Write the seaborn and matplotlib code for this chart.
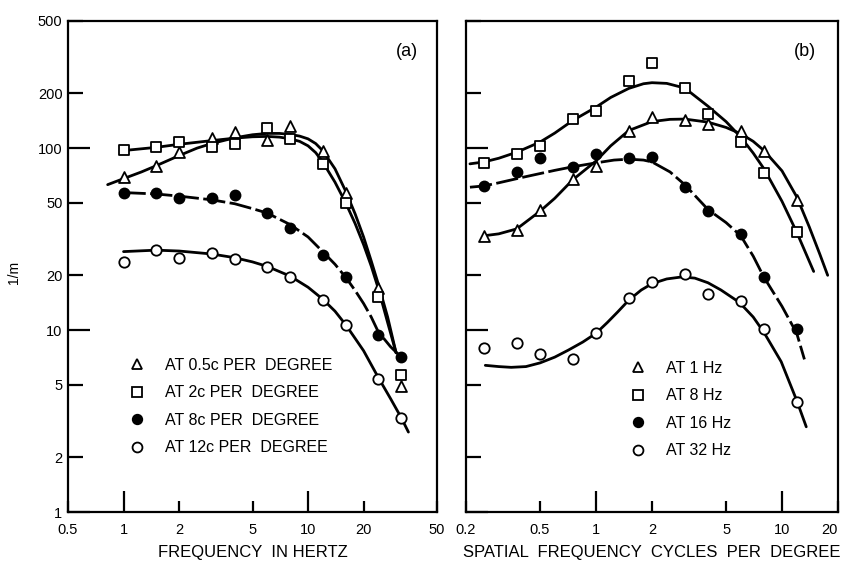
import seaborn as sns
import matplotlib.pyplot as plt
from matplotlib.lines import Line2D
from matplotlib.ticker import FixedLocator, FixedFormatter, NullFormatter

# ---- panel (a): sensitivity vs temporal frequency ----
temporal_hz = [1, 1.5, 2, 3, 4, 6, 8, 12, 16, 24, 32]
a_05c = [69, 80, 95, 114, 122, 111, 132, 97, 57, 17, 4.9]
a_2c = [98, 101, 108, 101, 105, 129, 112, 82, 50, 15.2, 5.65]
a_8c = [57, 57, 53.5, 53, 55, 44, 36.6, 26, 19.5, 9.4, 7.1]
a_12c = [23.8, 27.5, 25, 26.4, 24.5, 22.3, 19.5, 14.7, 10.6, 5.4, 3.27]

# hand-drawn fitted curves
a_05c_cx = [0.82, 1, 1.25, 1.5, 2, 2.5, 3, 4, 5, 6, 7, 8, 9, 10, 11, 12, 14, 16, 18, 20, 22, 24, 27, 30]
a_05c_cy = [63, 68, 74, 80, 91, 100, 106, 114, 118.5, 120.5, 120.5, 119, 116.5, 112.5, 106, 97, 77, 58, 43.5, 32.5, 24, 18, 11.8, 7.5]
a_2c_cx = [1, 1.5, 2, 3, 4, 5, 6, 7, 8, 9, 10, 11, 12, 14, 16, 18, 20, 22, 24, 27, 30]
a_2c_cy = [97, 101, 105, 110, 113.5, 115.5, 116, 115, 112.5, 109, 103, 94.5, 84, 65, 50, 38.5, 29.5, 22.5, 17, 11, 7.5]
a_8c_cx = [1, 1.5, 2, 3, 4, 5, 6, 8, 10, 12, 14, 16, 18, 20, 22, 24, 28, 32]
a_8c_cy = [57, 56, 54.5, 52, 49.5, 46.5, 44, 38, 32.5, 27, 23, 19.5, 16.5, 14, 11.8, 9.8, 8.1, 7.1]
a_12c_cx = [1, 1.5, 2, 3, 4, 5, 6, 8, 10, 12, 14, 16, 18, 20, 24, 28, 32, 35]
a_12c_cy = [27, 27.5, 27.2, 26.2, 25, 23.7, 22.4, 19.8, 17.2, 14.8, 12.7, 10.7, 9.0, 7.7, 5.5, 4.2, 3.3, 2.75]

# ---- panel (b): sensitivity vs spatial frequency ----
spatial_cpd = [0.25, 0.375, 0.5, 0.75, 1, 1.5, 2, 3, 4, 6, 8, 12]
b_1hz = [33, 35.5, 46, 68, 80, 125, 148, 142, 136, 124, 97, 52]
b_8hz = [83, 93, 103, 144, 160, 235, 293, 215, 154, 108, 73, 34.5]
b_16hz = [62, 73.5, 88, 79, 93, 88, 89, 61, 45, 33.7, 19.5, 10.1]
b_32hz = [8.0, 8.5, 7.4, 6.9, 9.6, 15.1, 18.3, 20.3, 15.7, 14.5, 10.2, 4.0]

b_1hz_cx = [0.25, 0.3, 0.375, 0.5, 0.6, 0.75, 1, 1.2, 1.5, 2, 2.5, 3, 4, 5, 6, 7, 8, 10, 12, 14, 16, 17.6]
b_1hz_cy = [33, 33.8, 36, 45, 53, 67, 85, 103, 125, 140, 144, 144.5, 139, 130, 120, 109, 97, 75, 54, 37, 26, 20]
b_8hz_cx = [0.21, 0.25, 0.3, 0.375, 0.5, 0.6, 0.75, 1, 1.2, 1.5, 1.8, 2, 2.4, 3, 4, 5, 6, 7, 8, 10, 12, 14.8]
b_8hz_cy = [82, 84, 88, 95, 108, 121, 142, 168, 190, 213, 226, 229, 227, 214, 170, 140, 115, 94, 77, 51, 34.5, 21]
b_16hz_cx = [0.21, 0.25, 0.3, 0.4, 0.5, 0.6, 0.75, 1, 1.25, 1.5, 1.8, 2, 2.5, 3, 4, 5, 6, 7, 8, 10, 12, 13.2]
b_16hz_cy = [61, 62, 64.5, 69, 72.5, 75.5, 79, 83, 86, 87, 86, 84, 74, 63, 46, 39, 33, 25.5, 19.5, 13.5, 9.6, 6.9]
b_32hz_cx = [0.254, 0.3, 0.35, 0.42, 0.5, 0.6, 0.71, 0.85, 1, 1.15, 1.31, 1.5, 1.75, 2, 2.4, 2.9,
             3.4, 4, 4.7, 5.9, 7, 8, 9.9, 12, 13.5]
b_32hz_cy = [6.4, 6.3, 6.24, 6.3, 6.6, 7.1, 7.76, 8.6, 9.6, 11, 12.6, 14.6, 16.6, 18, 19.1, 19.6,
             19.3, 18.2, 16.6, 14.2, 11.8, 9.7, 6.7, 4.1, 2.94]

legend_a = ["AT 0.5c PER  DEGREE", "AT 2c PER  DEGREE", "AT 8c PER  DEGREE", "AT 12c PER  DEGREE"]
legend_b = ["AT 1 Hz", "AT 8 Hz", "AT 16 Hz", "AT 32 Hz"]

sns.set_style("white")
plt.rcParams['font.family'] = ['Liberation Sans', 'DejaVu Sans']
plt.rcParams['text.color'] = 'black'
plt.rcParams['axes.labelcolor'] = 'black'

fig = plt.figure(figsize=(8.41, 5.63), dpi=100)
ax_a = fig.add_axes([68 / 841, 1 - 512 / 563, 369 / 841, 491 / 563])
ax_b = fig.add_axes([466 / 841, 1 - 512 / 563, 372 / 841, 491 / 563])

styles = [('^', 'white', 62), ('s', 'white', 52), ('o', 'black', 52), ('o', 'white', 56)]


def draw(ax, xs, ys, cx, cy, style, dashed=False):
    sns.lineplot(x=cx, y=cy, ax=ax, color='black', lw=2.0, sort=False,
                 estimator=None, zorder=2)
    if dashed:
        ax.lines[-1].set_dashes([8, 1.6])
    m, fc, s = style
    sns.scatterplot(x=xs, y=ys, ax=ax, marker=m, s=s, color=fc,
                    edgecolor='black', linewidth=1.3, zorder=3)


draw(ax_a, temporal_hz, a_05c, a_05c_cx, a_05c_cy, styles[0])
draw(ax_a, temporal_hz, a_2c, a_2c_cx, a_2c_cy, styles[1])
draw(ax_a, temporal_hz, a_8c, a_8c_cx, a_8c_cy, styles[2], dashed=True)
draw(ax_a, temporal_hz, a_12c, a_12c_cx, a_12c_cy, styles[3])

draw(ax_b, spatial_cpd, b_1hz, b_1hz_cx, b_1hz_cy, styles[0])
draw(ax_b, spatial_cpd, b_8hz, b_8hz_cx, b_8hz_cy, styles[1])
draw(ax_b, spatial_cpd, b_16hz, b_16hz_cx, b_16hz_cy, styles[2], dashed=True)
draw(ax_b, spatial_cpd, b_32hz, b_32hz_cx, b_32hz_cy, styles[3])

for ax, xlim in ((ax_a, (0.5, 50)), (ax_b, (0.2, 20))):
    ax.set_xscale('log')
    ax.set_yscale('log')
    ax.set_xlim(*xlim)
    ax.set_ylim(1, 500)
    for sp in ax.spines.values():
        sp.set_linewidth(1.6)
        sp.set_color('black')
    ax.yaxis.set_major_locator(FixedLocator([1, 10, 100]))
    ax.yaxis.set_minor_locator(FixedLocator([2, 5, 20, 50, 200, 500]))
    ax.tick_params(axis='both', which='both', direction='in', width=1.6,
                   color='black', labelsize=10.5, labelcolor='black',
                   bottom=True, left=True, top=False, right=False)
    ax.tick_params(axis='y', which='major', length=16, pad=4)
    ax.tick_params(axis='y', which='minor', length=11, pad=4)
    ax.tick_params(axis='x', which='major', length=15, pad=8)
    ax.tick_params(axis='x', which='minor', length=8, pad=8)
    ax.set_ylabel('')

ax_a.yaxis.set_major_formatter(FixedFormatter(['1', '10', '100']))
ax_a.yaxis.set_minor_formatter(FixedFormatter(['2', '5', '20', '50', '200', '500']))
ax_b.yaxis.set_major_formatter(NullFormatter())
ax_b.yaxis.set_minor_formatter(NullFormatter())

ax_a.xaxis.set_major_locator(FixedLocator([1, 10]))
ax_a.xaxis.set_minor_locator(FixedLocator([0.5, 2, 5, 20, 50]))
ax_a.xaxis.set_major_formatter(FixedFormatter(['1', '10']))
ax_a.xaxis.set_minor_formatter(FixedFormatter(['0.5', '2', '5', '20', '50']))

ax_b.xaxis.set_major_locator(FixedLocator([1, 10]))
ax_b.xaxis.set_minor_locator(FixedLocator([0.2, 0.5, 2, 5, 20]))
ax_b.xaxis.set_major_formatter(FixedFormatter(['1', '10']))
ax_b.xaxis.set_minor_formatter(FixedFormatter(['0.2', '0.5', '2', '5', '20']))

ax_a.set_xlabel('FREQUENCY  IN HERTZ', fontsize=12, labelpad=6, color='black')
ax_b.set_xlabel('SPATIAL  FREQUENCY  CYCLES  PER  DEGREE', fontsize=12, labelpad=6, color='black')
fig.text(14 / 841, 1 - 272 / 563, '1/m', rotation=90, ha='center', va='center', fontsize=10)

fig.text(407 / 841, 1 - 52 / 563, '(a)', ha='center', va='center', fontsize=13)
fig.text(805 / 841, 1 - 52 / 563, '(b)', ha='center', va='center', fontsize=13)


def legend(ax, labels, x0, y0):
    handles = []
    for (m, fc, s) in styles:
        handles.append(Line2D([], [], ls='none', marker=m, markersize=s ** 0.5 * 0.95,
                              markerfacecolor=fc, markeredgecolor='black', markeredgewidth=1.3))
    leg = ax.legend(handles, labels, loc='upper left', bbox_to_anchor=(x0 / 841, 1 - y0 / 563),
                    bbox_transform=fig.transFigure, frameon=False, fontsize=11.5,
                    handlelength=1.0, handletextpad=1.25, labelspacing=0.78,
                    borderpad=0, borderaxespad=0)
    for t in leg.get_texts():
        t.set_color('black')


legend(ax_a, legend_a, 129, 358)
legend(ax_b, legend_b, 630, 361)

fig.canvas.draw()
for lab in ax_b.get_xminorticklabels():
    if lab.get_text() == '20':
        lab.set_horizontalalignment('right')

fig.savefig('out.png', dpi=100)
